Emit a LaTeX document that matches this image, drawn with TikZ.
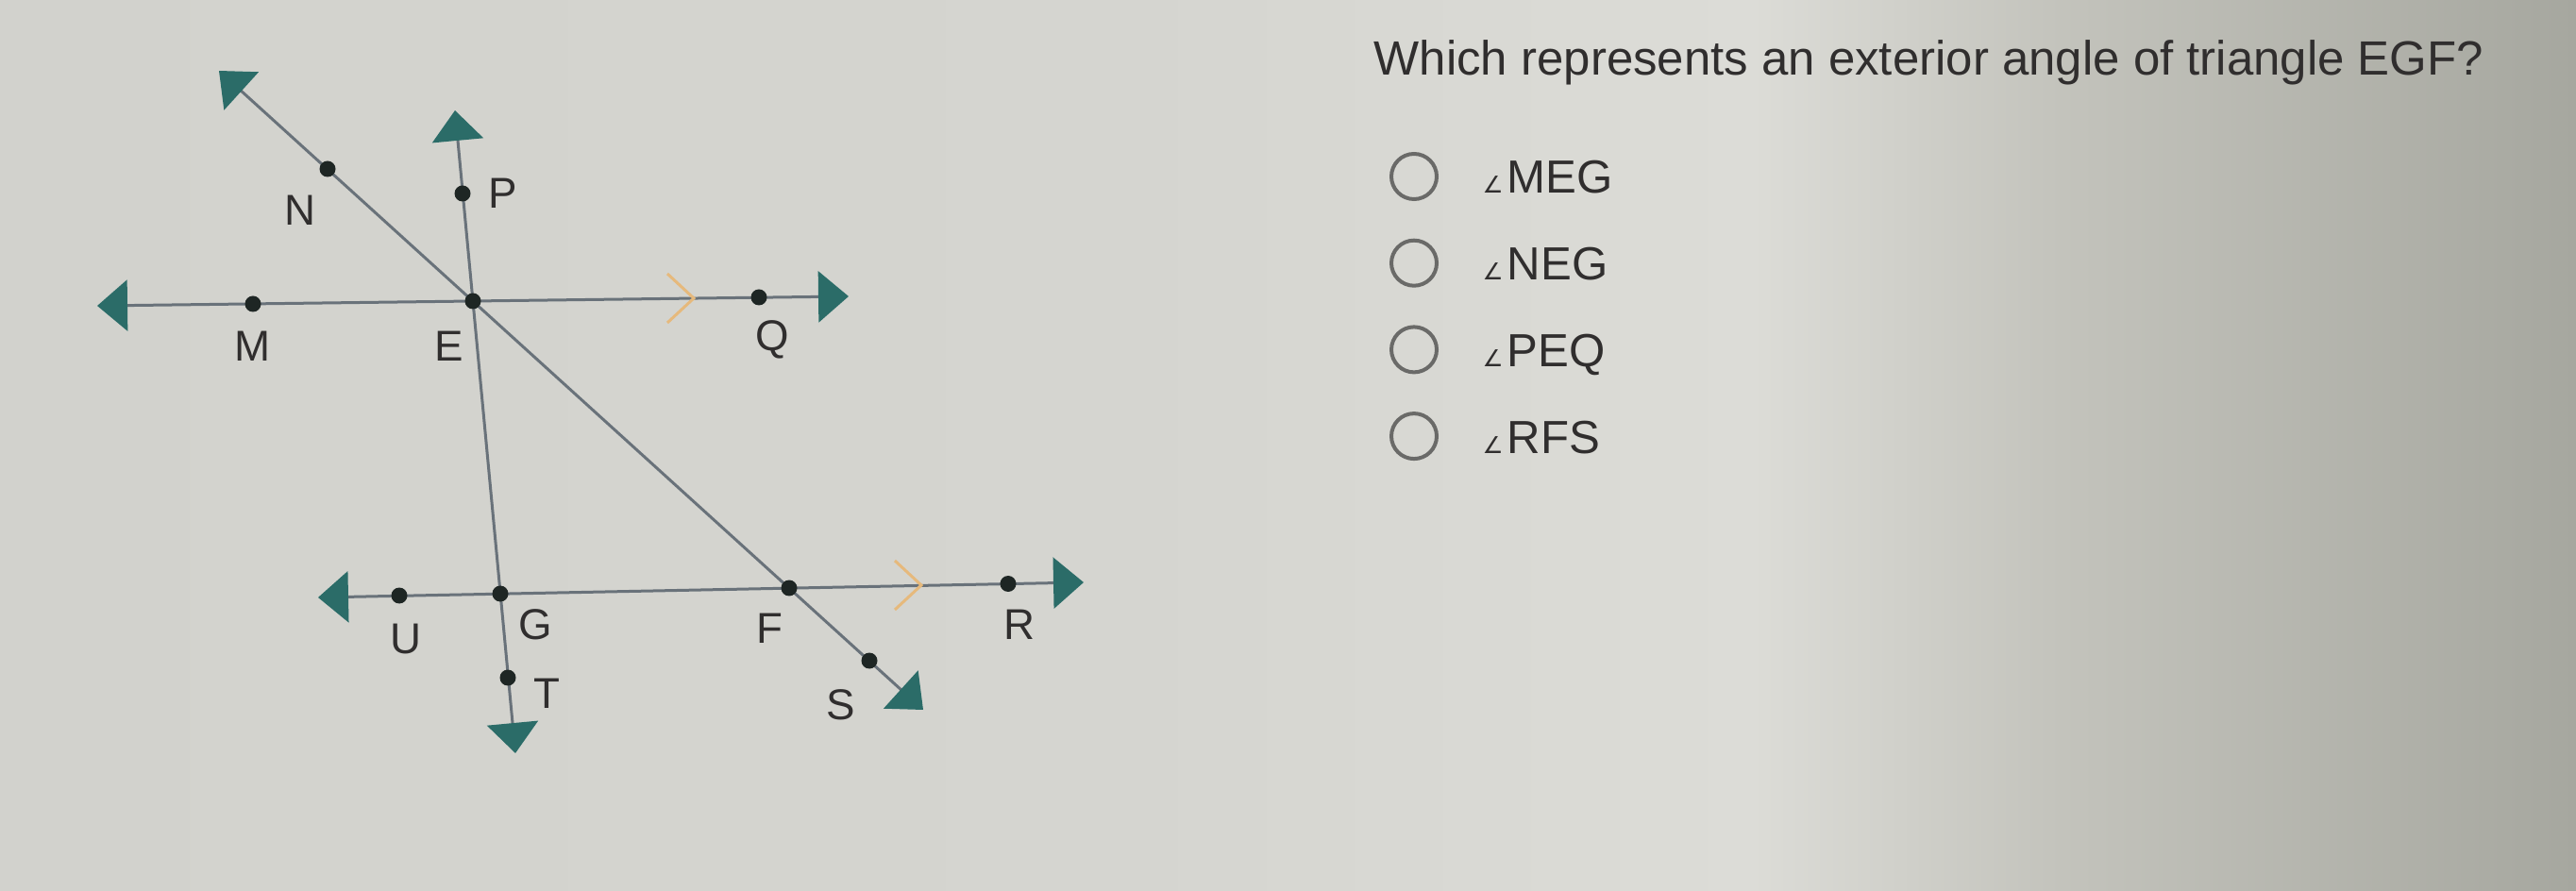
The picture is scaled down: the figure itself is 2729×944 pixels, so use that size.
\documentclass[tikz,border=0pt]{standalone}
\usepackage{fontspec}
\setmainfont{Liberation Sans}
\newfontfamily\symfont{DejaVu Sans}
\usetikzlibrary{arrows.meta,backgrounds}

\definecolor{bgleft}{HTML}{D2D2CD}
\definecolor{bgmid}{HTML}{D5D5D0}
\definecolor{bglight}{HTML}{DCDCD7}
\definecolor{bgdim}{HTML}{C3C3BC}
\definecolor{bgright}{HTML}{A6A79F}
\definecolor{linegray}{HTML}{69727A}
\definecolor{tipteal}{HTML}{2B6C68}
\definecolor{dotblack}{HTML}{1E2624}
\definecolor{chevorange}{HTML}{E6B97C}
\definecolor{inkgray}{HTML}{302E2E}
\definecolor{radiogray}{HTML}{6A6A68}

\pgfdeclarehorizontalshading{screen}{100bp}{color(0bp)=(bgleft); color(25bp)=(bgleft); color(47bp)=(bgmid); color(59bp)=(bglight); color(65bp)=(bgdim); color(75bp)=(bgright); color(100bp)=(bgright)}

\begin{document}
\begin{tikzpicture}[x=0.1mm,y=-0.1mm,
    ray/.style={draw=linegray, line width=0.3mm, {Triangle[length=3.2mm,width=5.4mm,color=tipteal]}-{Triangle[length=3.2mm,width=5.4mm,color=tipteal]}},
    dot/.style={circle, fill=dotblack, inner sep=0pt, minimum size=1.7mm},
    lbl/.style={text=inkgray, inner sep=0pt, font=\fontsize{13}{13}\selectfont},
    chev/.style={draw=chevorange, line width=0.3mm},
    radio/.style={draw=radiogray, line width=0.4mm},
    answer/.style={anchor=base west, inner sep=0pt, text=inkgray, font=\fontsize{14}{14}\selectfont},
  ]
  \path[use as bounding box] (0,0) rectangle (2729,944);

  % points on the figure
  \node[dot] (E) at (501,319) {};
  \node[dot] (G) at (530,629) {};
  \node[dot] (F) at (836,623) {};
  \node[dot] (N) at (347,179) {};
  \node[dot] (S) at (921,700) {};
  \node[dot] (P) at (490,205) {};
  \node[dot] (T) at (538,718) {};
  \node[dot] (M) at (268,322) {};
  \node[dot] (Q) at (804,315) {};
  \node[dot] (U) at (423,631) {};
  \node[dot] (R) at (1068,618.5) {};

  % free ends of the lines
  \coordinate (ns-a) at (232,75);
  \coordinate (ns-b) at (978,752);
  \coordinate (pt-a) at (482,117);
  \coordinate (pt-b) at (546,798);
  \coordinate (mq-a) at (103,324);
  \coordinate (mq-b) at (899,314);
  \coordinate (ur-a) at (337,633);
  \coordinate (ur-b) at (1148,617);
  \coordinate (chev-top) at (735,316);
  \coordinate (chev-bot) at (976,620);

  \node[lbl] (N-l) at (318,223) {N};
  \node[lbl] (P-l) at (533,205) {P};
  \node[lbl] (M-l) at (268,367) {M};
  \node[lbl] (E-l) at (476,367) {E};
  \node[lbl] (Q-l) at (818,360) {Q};
  \node[lbl] (U-l) at (430,677) {U};
  \node[lbl] (G-l) at (567,662) {G};
  \node[lbl] (F-l) at (815,666) {F};
  \node[lbl] (R-l) at (1080,662) {R};
  \node[lbl] (T-l) at (579,735) {T};
  \node[lbl] (S-l) at (891,747) {S};

  \begin{scope}[on background layer]
    \shade[shading=screen] (0,0) rectangle (2729,944);
    \draw[ray] (ns-a) -- (ns-b);
    \draw[ray] (pt-a) -- (pt-b);
    \draw[ray] (mq-a) -- (mq-b);
    \draw[ray] (ur-a) -- (ur-b);
    \draw[chev] ([shift={(-28,-26)}]chev-top) -- (chev-top) -- ([shift={(-28,26)}]chev-top);
    \draw[chev] ([shift={(-28,-26)}]chev-bot) -- (chev-bot) -- ([shift={(-28,26)}]chev-bot);
  \end{scope}

  % question and choices
  \node[anchor=base west, inner sep=0pt, text=inkgray, font=\fontsize{14.5}{14.5}\selectfont] (question) at (1455,80)
    {Which represents an exterior angle of triangle EGF?};
  \foreach \t [count=\i] in {MEG,NEG,PEQ,RFS} {
    \draw[radio] (1498,{187+91.7*(\i-1)}) circle[radius=2.4mm];
    \node[answer] (opt-\i) at (1570,{205+91.7*(\i-1)})
      {{\symfont\fontsize{7}{7}\selectfont ∠}\hspace{0.4mm}\t};
  }
\end{tikzpicture}
\end{document}
